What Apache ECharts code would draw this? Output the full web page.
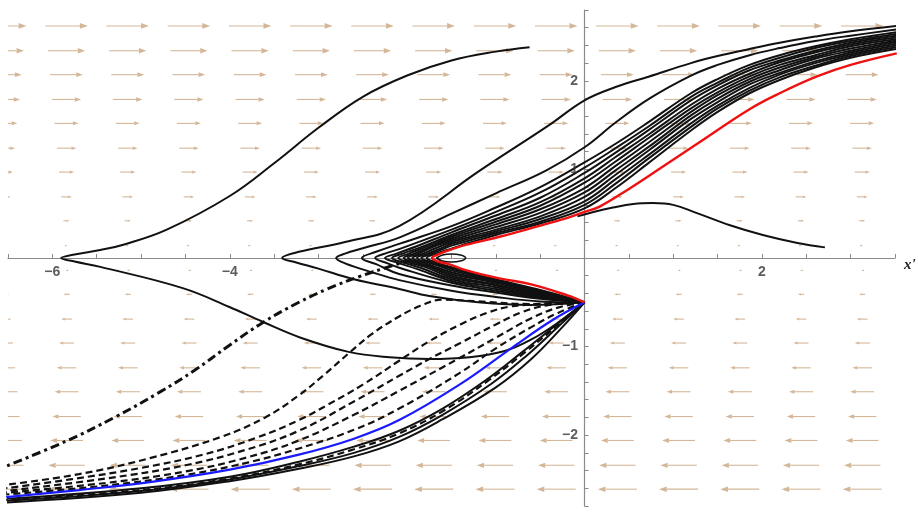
<!DOCTYPE html>
<html>
<head>
<meta charset="utf-8">
<style>html,body{margin:0;padding:0;background:#fff;}#c{width:918px;height:513px;}</style>
<script src="https://cdn.jsdelivr.net/npm/echarts@6/dist/echarts.min.js"></script>
</head>
<body>
<div id="c"></div>
<script>
// ---- axis tick labels ----
const xLabels = [-6, -4, 2];
const yLabels = [-2, -1, 1, 2];

// ---- vector field grid (arrow centres and signed horizontal magnitude per row) ----
const fieldX = [-6.53,-5.84,-5.15,-4.46,-3.77,-3.08,-2.39,-1.70,-1.01,-0.32,0.37,1.06,1.75,2.44,3.13];
const fieldY = [2.62,2.34,2.07,1.79,1.52,1.24,0.97,0.69,0.42,0.14,-0.14,-0.41,-0.69,-0.96,-1.24,-1.51,-1.79,-2.06,-2.34,-2.61,-2.89];
const fieldU = [0.48,0.42,0.37,0.33,0.27,0.22,0.17,0.12,0.07,0.02,-0.02,-0.07,-0.12,-0.17,-0.22,-0.27,-0.32,-0.37,-0.41,-0.44,-0.47];

// ---- trajectories ----
const upperPaths = [
 // A
 [[3.52,2.62],[3.0,2.56],[2.6,2.50],[2.2,2.43],[1.86,2.36],[1.5,2.28],[1.2,2.20],[0.73,2.05],[0.35,1.93],[0,1.78],[-0.4,1.5],[-1.19,0.98],[-2.09,0.36],[-2.7,0.18],[-3.22,0.07],[-3.41,0],
  [-3.25,-0.05],[-3.0,-0.12],[-2.6,-0.24],[-2.09,-0.35],[-1.75,-0.43],[-1.2,-0.5],[-0.6,-0.53],[0,-0.5]],
 // B
 [[3.52,2.58],[3.0,2.51],[2.6,2.45],[2.2,2.37],[1.86,2.29],[1.5,2.18],[1.2,2.06],[0.73,1.80],[0.35,1.53],[0,1.25],[-0.43,0.99],[-1.0,0.73],[-1.5,0.5],[-2.09,0.23],[-2.5,0.11],[-2.7,0.05],[-2.80,0],
  [-2.7,-0.06],[-2.4,-0.16],[-2.09,-0.25],[-1.5,-0.37],[-1.0,-0.44],[-0.5,-0.49],[0,-0.5]],
 // C
 [[3.52,2.55],[3.0,2.47],[2.6,2.39],[2.2,2.29],[1.86,2.18],[1.5,2.02],[1.2,1.86],[0.73,1.54],[0.35,1.29],[0,1.08],[-0.5,0.8],[-1.0,0.57],[-1.5,0.36],[-2.09,0.16],[-2.35,0.07],[-2.51,0],
  [-2.35,-0.07],[-2.09,-0.18],[-1.5,-0.31],[-1.0,-0.39],[-0.5,-0.46],[0,-0.5]],
 // D
 [[3.52,2.53],[3.0,2.45],[2.6,2.37],[2.2,2.26],[1.86,2.15],[1.5,1.98],[1.2,1.82],[0.73,1.49],[0.35,1.24],[0,1.02],[-0.5,0.74],[-1.0,0.52],[-1.5,0.32],[-2.09,0.1],[-2.22,0.06],[-2.36,0],
  [-2.22,-0.06],[-2.09,-0.11],[-1.5,-0.28],[-1.0,-0.37],[-0.5,-0.45],[0,-0.5]],
 // E
 [[3.52,2.51],[3.0,2.43],[2.6,2.34],[2.2,2.23],[1.86,2.12],[1.5,1.95],[1.2,1.78],[0.73,1.45],[0.35,1.19],[0,0.96],[-0.5,0.68],[-1.0,0.48],[-1.5,0.29],[-1.9,0.13],[-2.12,0.05],[-2.25,0],
  [-2.12,-0.05],[-1.9,-0.12],[-1.5,-0.26],[-1.0,-0.35],[-0.5,-0.44],[0,-0.5]],
 // F
 [[3.52,2.49],[3.0,2.41],[2.6,2.32],[2.2,2.21],[1.86,2.08],[1.5,1.91],[1.2,1.73],[0.73,1.40],[0.35,1.14],[0,0.90],[-0.5,0.63],[-1.0,0.44],[-1.5,0.26],[-1.85,0.12],[-2.05,0.05],[-2.17,0],
  [-2.05,-0.05],[-1.85,-0.11],[-1.5,-0.24],[-1.0,-0.33],[-0.5,-0.43],[0,-0.5]],
 // G
 [[3.52,2.47],[3.0,2.39],[2.6,2.29],[2.2,2.18],[1.86,2.05],[1.5,1.87],[1.2,1.69],[0.73,1.36],[0.35,1.09],[0,0.85],[-0.5,0.59],[-1.0,0.41],[-1.5,0.24],[-1.8,0.12],[-1.98,0.05],[-2.10,0],
  [-1.98,-0.05],[-1.8,-0.1],[-1.5,-0.22],[-1.0,-0.31],[-0.5,-0.42],[0,-0.5]],
 // H
 [[3.52,2.455],[3.0,2.365],[2.6,2.27],[2.2,2.15],[1.86,2.02],[1.5,1.84],[1.2,1.65],[0.73,1.31],[0.35,1.04],[0,0.79],[-0.5,0.55],[-1.0,0.38],[-1.5,0.22],[-1.75,0.12],[-1.92,0.05],[-2.04,0],
  [-1.92,-0.05],[-1.75,-0.1],[-1.5,-0.2],[-1.0,-0.3],[-0.5,-0.41],[0,-0.5]],
 // I
 [[3.52,2.44],[3.0,2.34],[2.6,2.25],[2.2,2.12],[1.86,1.99],[1.5,1.80],[1.2,1.61],[0.73,1.26],[0.35,0.99],[0,0.74],[-0.5,0.51],[-1.0,0.35],[-1.5,0.2],[-1.72,0.12],[-1.87,0.05],[-1.99,0],
  [-1.87,-0.05],[-1.72,-0.1],[-1.5,-0.18],[-1.0,-0.28],[-0.5,-0.4],[0,-0.5]],
 // J
 [[3.52,2.42],[3.0,2.32],[2.6,2.22],[2.2,2.09],[1.86,1.96],[1.5,1.76],[1.2,1.57],[0.73,1.22],[0.35,0.94],[0,0.69],[-0.5,0.47],[-1.0,0.32],[-1.5,0.18],[-1.68,0.11],[-1.82,0.05],[-1.94,0],
  [-1.82,-0.05],[-1.68,-0.1],[-1.5,-0.16],[-1.0,-0.27],[-0.5,-0.39],[0,-0.5]],
 // K
 [[3.52,2.40],[3.0,2.30],[2.6,2.20],[2.2,2.07],[1.86,1.92],[1.5,1.72],[1.2,1.52],[0.73,1.17],[0.35,0.89],[0,0.64],[-0.5,0.44],[-1.0,0.3],[-1.5,0.16],[-1.64,0.1],[-1.77,0.05],[-1.89,0],
  [-1.77,-0.05],[-1.64,-0.09],[-1.5,-0.14],[-1.0,-0.26],[-0.5,-0.38],[0,-0.5]],
 // L
 [[3.52,2.38],[3.0,2.28],[2.6,2.17],[2.2,2.04],[1.86,1.89],[1.5,1.69],[1.2,1.48],[0.73,1.13],[0.35,0.84],[0,0.60],[-0.5,0.41],[-1.0,0.28],[-1.5,0.14],[-1.6,0.1],[-1.72,0.05],[-1.84,0],
  [-1.72,-0.05],[-1.6,-0.09],[-1.5,-0.12],[-1.0,-0.25],[-0.5,-0.37],[0,-0.5]],
 // M
 [[3.52,2.36],[3.0,2.26],[2.6,2.15],[2.2,2.01],[1.86,1.86],[1.5,1.65],[1.2,1.44],[0.73,1.08],[0.35,0.79],[0,0.56],[-0.5,0.39],[-1.0,0.26],[-1.4,0.14],[-1.55,0.09],[-1.67,0.05],[-1.78,0],
  [-1.67,-0.05],[-1.55,-0.09],[-1.4,-0.13],[-1.0,-0.24],[-0.5,-0.36],[0,-0.5]]
];

const outerPath = [[-0.62,2.38],[-1.0,2.33],[-1.5,2.23],[-2.0,2.06],[-2.5,1.82],[-3.0,1.47],[-3.5,1.07],[-4.0,0.70],[-4.71,0.32],[-5.2,0.15],[-5.46,0.09],[-5.75,0.04],[-5.9,0],
  [-5.75,-0.04],[-5.46,-0.1],[-4.53,-0.34],[-4.01,-0.55],[-3.63,-0.72],[-3.2,-0.9],[-2.66,-1.06],[-2.2,-1.12],[-1.75,-1.14],[-1.3,-1.12],[-0.9,-1.05],[-0.6,-0.92],[-0.3,-0.73],[0,-0.5]];

const humpPath = [[-0.08,0.47],[0.1,0.52],[0.32,0.57],[0.55,0.61],[0.77,0.62],[1.0,0.6],[1.26,0.51],[1.64,0.37],[2.01,0.26],[2.4,0.17],[2.71,0.12]];

const loopPath = [[-1.67,0],[-1.6,0.035],[-1.5,0.045],[-1.4,0.035],[-1.34,0],[-1.4,-0.035],[-1.5,-0.045],[-1.6,-0.035],[-1.67,0]];

const redPath = [[3.52,2.31],[3.0,2.18],[2.62,2.05],[2.2,1.86],[1.86,1.68],[1.3,1.31],[0.85,1.01],[0.5,0.78],[0.17,0.58],[0,0.52],[-0.2,0.45],[-0.59,0.34],[-0.96,0.24],[-1.33,0.15],[-1.55,0.08],[-1.65,0.04],[-1.72,0],
  [-1.65,-0.04],[-1.53,-0.07],[-1.33,-0.14],[-0.96,-0.23],[-0.59,-0.30],[-0.2,-0.42],[0,-0.5]];

const dashDotPath = [[-1.95,-0.02],[-2.24,-0.11],[-2.54,-0.21],[-2.9,-0.35],[-3.22,-0.5],[-3.63,-0.73],[-4.01,-0.99],[-4.4,-1.27],[-4.8,-1.52],[-5.3,-1.8],[-5.85,-2.07],[-6.52,-2.35]];

const dashedPaths = [
 [[0,-0.5],[-0.6,-0.52],[-1.2,-0.49],[-1.6,-0.47],[-1.85,-0.54],[-2.09,-0.66],[-2.4,-0.86],[-2.64,-1.06],[-2.95,-1.33],[-3.22,-1.55],[-3.6,-1.8],[-4.1,-2.02],[-4.9,-2.26],[-5.7,-2.44],[-6.52,-2.56]],
 [[0,-0.5],[-0.5,-0.52],[-0.85,-0.55],[-1.1,-0.62],[-1.4,-0.75],[-1.75,-0.94],[-2.09,-1.16],[-2.5,-1.43],[-2.9,-1.66],[-3.22,-1.83],[-3.7,-2.03],[-4.3,-2.22],[-5.0,-2.37],[-5.8,-2.5],[-6.52,-2.6]],
 [[0,-0.5],[-0.4,-0.53],[-0.7,-0.61],[-1.0,-0.75],[-1.4,-0.96],[-1.75,-1.14],[-2.09,-1.33],[-2.6,-1.62],[-3.22,-1.95],[-3.8,-2.16],[-4.5,-2.34],[-5.4,-2.49],[-6.52,-2.63]],
 [[0,-0.5],[-0.3,-0.56],[-0.6,-0.68],[-1.0,-0.9],[-1.41,-1.13],[-2.09,-1.5],[-2.6,-1.77],[-3.22,-2.06],[-3.8,-2.25],[-4.5,-2.41],[-5.4,-2.54],[-6.52,-2.65]],
 [[0,-0.5],[-0.3,-0.62],[-0.6,-0.78],[-1.0,-1.02],[-1.41,-1.3],[-2.09,-1.7],[-2.6,-1.94],[-3.22,-2.15],[-3.8,-2.31],[-4.5,-2.45],[-5.4,-2.57],[-6.52,-2.67]],
 [[0,-0.5],[-0.29,-0.75],[-0.68,-1.07],[-1.08,-1.38],[-1.6,-1.73],[-2.09,-1.98],[-2.6,-2.16],[-3.22,-2.33],[-4.0,-2.49],[-5.0,-2.62],[-6.52,-2.73]]
];

const lowerSolidPaths = [
 [[0,-0.5],[-0.3,-0.74],[-0.7,-1.06],[-1.1,-1.37],[-1.6,-1.7],[-2.09,-1.95],[-2.6,-2.13],[-3.22,-2.3],[-4.0,-2.47],[-5.0,-2.6],[-6.52,-2.72]],
 [[0,-0.5],[-0.28,-0.76],[-0.65,-1.1],[-1.05,-1.42],[-1.6,-1.77],[-2.09,-2.02],[-2.6,-2.2],[-3.22,-2.35],[-4.0,-2.5],[-5.0,-2.63],[-6.52,-2.74]],
 [[0,-0.5],[-0.25,-0.78],[-0.6,-1.14],[-1.0,-1.46],[-1.6,-1.82],[-2.09,-2.07],[-2.6,-2.24],[-3.22,-2.38],[-4.0,-2.52],[-5.0,-2.65],[-6.52,-2.76]]
];

const bluePath = [[0,-0.5],[-0.36,-0.70],[-0.8,-1.0],[-1.41,-1.43],[-2.09,-1.83],[-2.6,-2.04],[-3.22,-2.22],[-4.0,-2.39],[-4.9,-2.53],[-5.7,-2.62],[-6.52,-2.70]];

// ---- build ----
const arrowData = [];
fieldY.forEach((y, i) => fieldX.forEach(x => arrowData.push([x, y, fieldU[i]])));

const arrowColor = '#d4b799';
function renderArrow(params, api) {
  const x = api.value(0), y = api.value(1), u = api.value(2);
  const p0 = api.coord([x - u / 2, y]);
  const p1 = api.coord([x + u / 2, y]);
  const len = Math.abs(p1[0] - p0[0]);
  const dir = p1[0] >= p0[0] ? 1 : -1;
  const h = Math.min(8, 2.2 + 0.14 * len);
  const w = h * 0.36;
  const bx = p1[0] - dir * h;
  return {
    type: 'group',
    children: [
      { type: 'line', shape: { x1: p0[0], y1: p0[1], x2: bx, y2: p1[1] }, style: { stroke: arrowColor, lineWidth: 1.1 } },
      { type: 'polygon', shape: { points: [[p1[0], p1[1]], [bx, p1[1] - w], [bx, p1[1] + w]] }, style: { fill: arrowColor } }
    ]
  };
}

function lineSeries(data, color, width, type, z) {
  return {
    type: 'line', data: data, smooth: 0.4, symbol: 'none', silent: true, z: z || 3,
    lineStyle: { color: color, width: width, type: type || 'solid', cap: 'butt' }
  };
}

const fmt = v => (v < 0 ? '\u2212' + Math.abs(v) : String(v));
const labelFont = { color: '#333', fontSize: 14, fontWeight: 'bold', fontFamily: 'Liberation Sans, Arial, sans-serif' };

const series = [
  { type: 'custom', renderItem: renderArrow, data: arrowData, clip: true, silent: true, z: 1 }
];
dashedPaths.forEach(p => series.push(lineSeries(p, '#111', 2.2, [7, 4])));
lowerSolidPaths.forEach(p => series.push(lineSeries(p, '#111', 2)));
series.push(lineSeries(dashDotPath, '#111', 3, [9, 4, 3, 4]));
series.push(lineSeries(outerPath, '#111', 2));
upperPaths.forEach(p => series.push(lineSeries(p, '#111', 2)));
series.push(lineSeries(humpPath, '#111', 2));
series.push(lineSeries(loopPath, '#111', 1.6));
series.push(lineSeries(bluePath, '#1a1aff', 2.2, 'solid', 4));
series.push(lineSeries(redPath, '#ee1111', 2.4, 'solid', 4));
// tick labels placed at axis positions through the library's scales
series.push({
  type: 'scatter', data: xLabels.map(v => [v, 0]), symbolSize: 1, itemStyle: { color: 'transparent' }, silent: true, z: 6,
  label: Object.assign({ show: true, position: 'bottom', distance: 7, formatter: p => fmt(p.value[0]) }, labelFont)
});
series.push({
  type: 'scatter', data: yLabels.map(v => [0, v]), symbolSize: 1, itemStyle: { color: 'transparent' }, silent: true, z: 6,
  label: Object.assign({ show: true, position: 'left', distance: 6, formatter: p => fmt(p.value[1]) }, labelFont)
});

const axisColor = '#8a8a8a';
const chart = echarts.init(document.getElementById('c'), null, { renderer: 'canvas' });
chart.setOption({
  animation: false,
  backgroundColor: '#fff',
  grid: { left: 8, right: 23, top: 10, bottom: 7, containLabel: false, outerBoundsMode: 'none' },
  xAxis: {
    type: 'value', min: -6.5, max: 3.5, interval: 0.5,
    name: "x'", nameLocation: 'end', nameGap: 9,
    nameTextStyle: { color: '#222', fontSize: 15, fontWeight: 'bold', fontStyle: 'italic', fontFamily: 'Liberation Serif, serif', verticalAlign: 'top' },
    axisLine: { onZero: true, lineStyle: { color: axisColor, width: 1.2 } },
    axisTick: { inside: true, length: 4, lineStyle: { color: axisColor } },
    axisLabel: { show: false },
    splitLine: { show: false }
  },
  yAxis: {
    type: 'value', min: -2.8, max: 2.8, interval: 0.2,
    axisLine: { onZero: true, lineStyle: { color: axisColor, width: 1.2 } },
    axisTick: { inside: true, length: 4, lineStyle: { color: axisColor } },
    axisLabel: { show: false },
    splitLine: { show: false }
  },
  series: series
});
</script>
</body>
</html>
